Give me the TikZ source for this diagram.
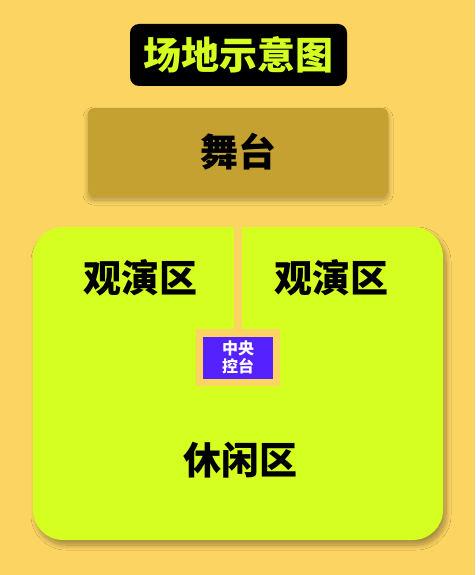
\documentclass[tikz,border=0pt]{standalone}
\usepackage{fontspec}
\newfontfamily\cjk{Noto Sans CJK SC}
\usetikzlibrary{positioning, shadows.blur}

\definecolor{bgyellow}{HTML}{FCD462}
\definecolor{stagegold}{HTML}{C4A130}
\definecolor{limearea}{HTML}{D4FF20}
\definecolor{deskblue}{HTML}{5522FF}

\begin{document}
\begin{tikzpicture}[
    x=1pt,
    y=-1pt,
    every node/.style={font=\cjk\bfseries\fontsize{38}{42}\selectfont},
    titlebox/.style={fill=black, text=limearea, rounded corners=9pt,
        minimum width=217pt, minimum height=62pt, inner sep=0pt},
    stagebox/.style={fill=stagegold, rounded corners=6pt,
        minimum width=300pt, minimum height=88pt,
        blur shadow={shadow xshift=0pt, shadow yshift=-4pt, shadow blur radius=5pt,
            shadow blur steps=16, shadow opacity=30}},
    hallbox/.style={fill=limearea, rounded corners=30pt,
        minimum width=410pt, minimum height=313pt,
        blur shadow={shadow xshift=3pt, shadow yshift=-5pt, shadow blur radius=5pt,
            shadow blur steps=16, shadow opacity=35}},
    zonelabel/.style={inner sep=0pt},
    deskframe/.style={fill=bgyellow, minimum width=84pt, minimum height=57pt, inner sep=0pt},
    desk/.style={fill=deskblue, text=white, align=center, inner sep=0pt,
        minimum width=70pt, minimum height=42pt,
        font=\cjk\bfseries\fontsize{16}{17.5}\selectfont},
    strip/.style={draw=bgyellow, line width=8pt},
]

    % page and background
    \fill[bgyellow] (0,0) rectangle (475,575);

    \node[titlebox] (title) at (238.5,55)   {场地示意图};
    \node[stagebox] (stage) at (238,152)    {舞台};
    \node[hallbox]  (hall)  at (238,383.5)  {};

    \node[deskframe] (frame) at (238,357.5) {};
    \draw[strip] (frame.north) -- (frame.north |- hall.north);
    \node[desk] (desk) at (frame.center) {中央\\控台};

    \node[zonelabel] (viewl) at (140,278) {观演区};
    \node[zonelabel] (viewr) at (331,278) {观演区};
    \node[zonelabel] (rest)  at (240,460) {休闲区};
\end{tikzpicture}
\end{document}
